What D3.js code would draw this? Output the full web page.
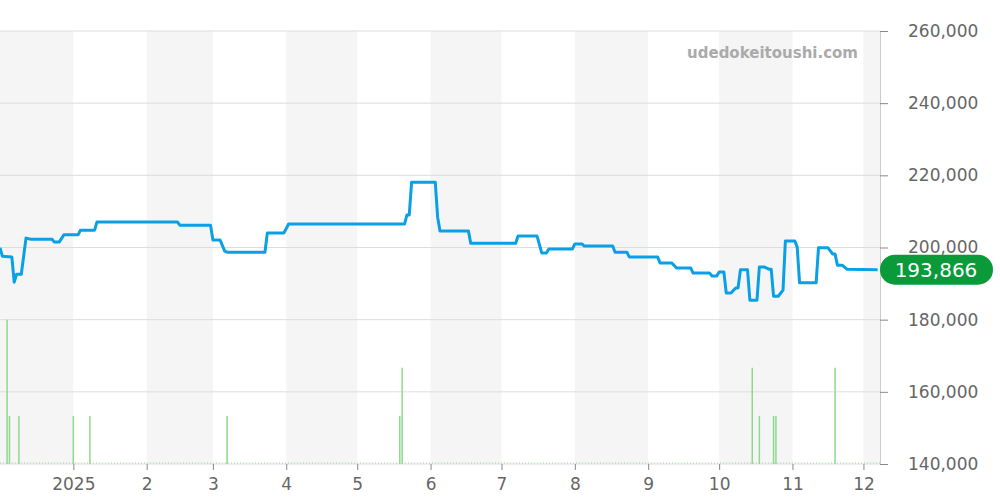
<!DOCTYPE html>
<html><head><meta charset="utf-8">
<script src="https://cdn.jsdelivr.net/npm/d3@7"></script>
<style>body{margin:0;background:#fff}svg,svg text{font-family:"DejaVu Sans",sans-serif}</style>
</head><body><svg id="c" width="1000" height="500"></svg>
<script>
const priceDates = ["2024-12-01","2024-12-02","2024-12-06","2024-12-07","2024-12-08","2024-12-10","2024-12-12","2024-12-14","2024-12-23","2024-12-24","2024-12-26","2024-12-28","2025-01-03","2025-01-04","2025-01-10","2025-01-11","2025-02-14","2025-02-15","2025-02-28","2025-03-01","2025-03-04","2025-03-06","2025-03-07","2025-03-23","2025-03-24","2025-03-31","2025-04-02","2025-05-21","2025-05-22","2025-05-23","2025-05-24","2025-06-03","2025-06-04","2025-06-05","2025-06-17","2025-06-18","2025-07-07","2025-07-08","2025-07-16","2025-07-18","2025-07-20","2025-07-21","2025-07-31","2025-08-01","2025-08-04","2025-08-05","2025-08-17","2025-08-18","2025-08-23","2025-08-24","2025-09-05","2025-09-06","2025-09-11","2025-09-13","2025-09-19","2025-09-20","2025-09-27","2025-09-28","2025-09-30","2025-10-01","2025-10-03","2025-10-04","2025-10-06","2025-10-08","2025-10-09","2025-10-10","2025-10-13","2025-10-14","2025-10-17","2025-10-18","2025-10-20","2025-10-22","2025-10-23","2025-10-24","2025-10-26","2025-10-28","2025-10-29","2025-11-02","2025-11-03","2025-11-04","2025-11-11","2025-11-12","2025-11-16","2025-11-18","2025-11-19","2025-11-20","2025-11-22","2025-11-24","2025-12-07"];
const priceValues = [199900,197600,197400,190400,192600,192600,202600,202300,202300,201500,201500,203500,203500,204800,204800,207100,207100,206200,206200,202100,202100,199000,198700,198700,204000,204000,206500,206500,209000,209000,218100,218100,208400,204600,204600,201200,201200,203200,203200,198500,198500,199600,199600,201000,201000,200400,200400,198700,198700,197400,197400,195700,195700,194300,194300,192900,192900,192100,192100,193200,193200,187400,187400,188800,188800,193800,193800,185400,185400,194600,194600,194000,194000,186500,186500,188200,201800,201800,200100,190200,190200,199900,199900,198200,198200,195100,195100,194000,193866];
const volDates = ["2024-12-04","2024-12-05","2024-12-09","2025-01-01","2025-01-08","2025-03-07","2025-05-19","2025-05-20","2025-10-15","2025-10-18","2025-10-24","2025-10-25","2025-11-19"];
const volValues = [3,1,1,1,1,1,1,2,2,1,1,1,2];
const yTicks = [140000,160000,180000,200000,220000,240000,260000];
const lastLabel = "193,866";
const watermark = "udedokeitoushi.com";

const p = d3.timeParse("%Y-%m-%d");
const svg = d3.select("#c");
const L=0,R=880,T=31,B=464;
const x = d3.scaleTime().domain([p("2024-12-01"),p("2025-12-08")]).range([L,R]);
const y = d3.scaleLinear().domain([140000,260000]).range([B,T]);
const yv = d3.scaleLinear().domain([0,9]).range([B,T]);

const months = d3.timeMonth.range(p("2024-12-01"),p("2026-01-01"));
months.forEach((m,i)=>{ if(i%2===0){
  const x0=x(m), x1=Math.min(R,x(d3.timeMonth.offset(m,1)));
  svg.append("rect").attr("x",x0).attr("y",T).attr("width",x1-x0).attr("height",B-T).attr("fill","#f5f5f5");
}});
svg.selectAll(".g").data(yTicks).enter().append("line").attr("x1",L).attr("x2",R)
  .attr("y1",d=>y(d)).attr("y2",d=>y(d)).attr("stroke","#ddd");
const ya = svg.append("g").attr("transform",`translate(${R},0)`)
  .call(d3.axisRight(y).tickValues(yTicks).tickSize(8).tickPadding(20).tickFormat(d3.format(",")));
ya.attr("font-family","DejaVu Sans");
ya.select(".domain").attr("stroke","#ccc");
ya.selectAll("line").attr("stroke","#888");
ya.selectAll("text").attr("fill","#666").attr("font-size",17);
const xa = svg.append("g").attr("transform",`translate(0,${B})`)
  .call(d3.axisBottom(x).ticks(d3.timeMonth.every(1)).tickSize(6).tickPadding(8)
    .tickFormat(d=>d.getMonth()===0?d3.timeFormat("%Y")(d):(d.getMonth()+1)+""));
xa.attr("font-family","DejaVu Sans");
xa.select(".domain").remove();
xa.selectAll("line").attr("stroke","#888");
xa.selectAll("text").attr("fill","#666").attr("font-size",17);
xa.selectAll(".tick").filter(d=>x(d)<5).remove();
svg.append("line").attr("x1",L).attr("x2",R).attr("y1",B-1).attr("y2",B-1)
  .attr("stroke","#9bdc9b").attr("stroke-dasharray","1,2");
svg.selectAll(".v").data(volDates).enter().append("line")
  .attr("x1",d=>x(p(d))).attr("x2",d=>x(p(d)))
  .attr("y1",B).attr("y2",(d,i)=>yv(volValues[i]))
  .attr("stroke","#8fd88f").attr("stroke-width",1.5);
svg.append("text").attr("x",858).attr("y",58).attr("text-anchor","end")
  .attr("font-size",15).attr("font-weight","bold").attr("fill","#aaa").text(watermark);
const line = d3.line().x((d,i)=>x(p(d))).y((d,i)=>y(priceValues[i]));
svg.append("path").attr("d",line(priceDates)).attr("fill","none")
  .attr("stroke","#0aa0e6").attr("stroke-width",3).attr("stroke-linejoin","round");
const ly = y(priceValues[priceValues.length-1]);
svg.append("rect").attr("x",880).attr("y",ly-15).attr("width",113).attr("height",30).attr("rx",15).attr("fill","#0a9a3a");
svg.append("text").attr("x",936).attr("y",ly+7).attr("text-anchor","middle").attr("font-size",20).attr("fill","#fff").text(lastLabel);
</script></body></html>
